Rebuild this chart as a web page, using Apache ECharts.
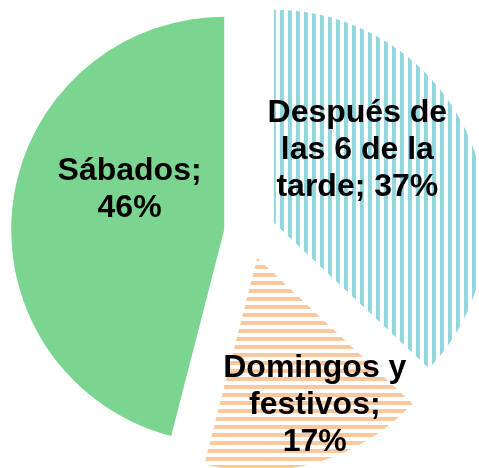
<!DOCTYPE html>
<html>
<head>
<meta charset="utf-8">
<script src="https://cdn.jsdelivr.net/npm/echarts@6/dist/echarts.min.js"></script>
<style>html,body{margin:0;padding:0;background:#fff}#c{width:479px;height:468px}</style>
</head>
<body>
<div id="c"></div>
<script>
const categories = ['Después de las 6 de la tarde', 'Domingos y festivos', 'Sábados'];
const values = [37, 17, 46];
const labelLines = [
  ['Después de', 'las 6 de la', 'tarde; {v}%'],
  ['Domingos y', 'festivos;', '{v}%'],
  ['Sábados;', '{v}%']
];

function stripes(color, vertical) {
  const c = document.createElement('canvas');
  c.width = 8; c.height = 8;
  const g = c.getContext('2d');
  g.fillStyle = '#ffffff';
  g.fillRect(0, 0, 8, 8);
  g.fillStyle = color;
  if (vertical) g.fillRect(0, 0, 4, 8); else g.fillRect(0, 0, 8, 4);
  return { image: c, repeat: 'repeat' };
}

const fills = [stripes('#92D5DD', true), stripes('#FFC79A', false), '#7BD591'];
const labelShift = [[-17, -29], [27, 42], [14, -26]];

const chart = echarts.init(document.getElementById('c'), null, { renderer: 'canvas' });
chart.setOption({
  animation: false,
  series: [{
    type: 'pie',
    center: [250, 233],
    radius: [0, 213],
    startAngle: 90,
    clockwise: true,
    selectedMode: 'multiple',
    selectedOffset: 26,
    avoidLabelOverlap: false,
    emphasis: { disabled: true },
    label: {
      show: true,
      position: 'inside',
      color: '#000',
      fontFamily: 'Liberation Sans, Arial, sans-serif',
      fontWeight: 'bold',
      fontSize: 32,
      lineHeight: 37,
      align: 'center',
      formatter: p => labelLines[p.dataIndex].join('\n').replace('{v}', p.value)
    },
    labelLine: { show: false },
    labelLayout: p => ({ dx: labelShift[p.dataIndex][0], dy: labelShift[p.dataIndex][1] }),
    data: categories.map((n, i) => ({
      name: n,
      value: values[i],
      selected: true,
      itemStyle: { color: fills[i] }
    }))
  }]
});
</script>
</body>
</html>
